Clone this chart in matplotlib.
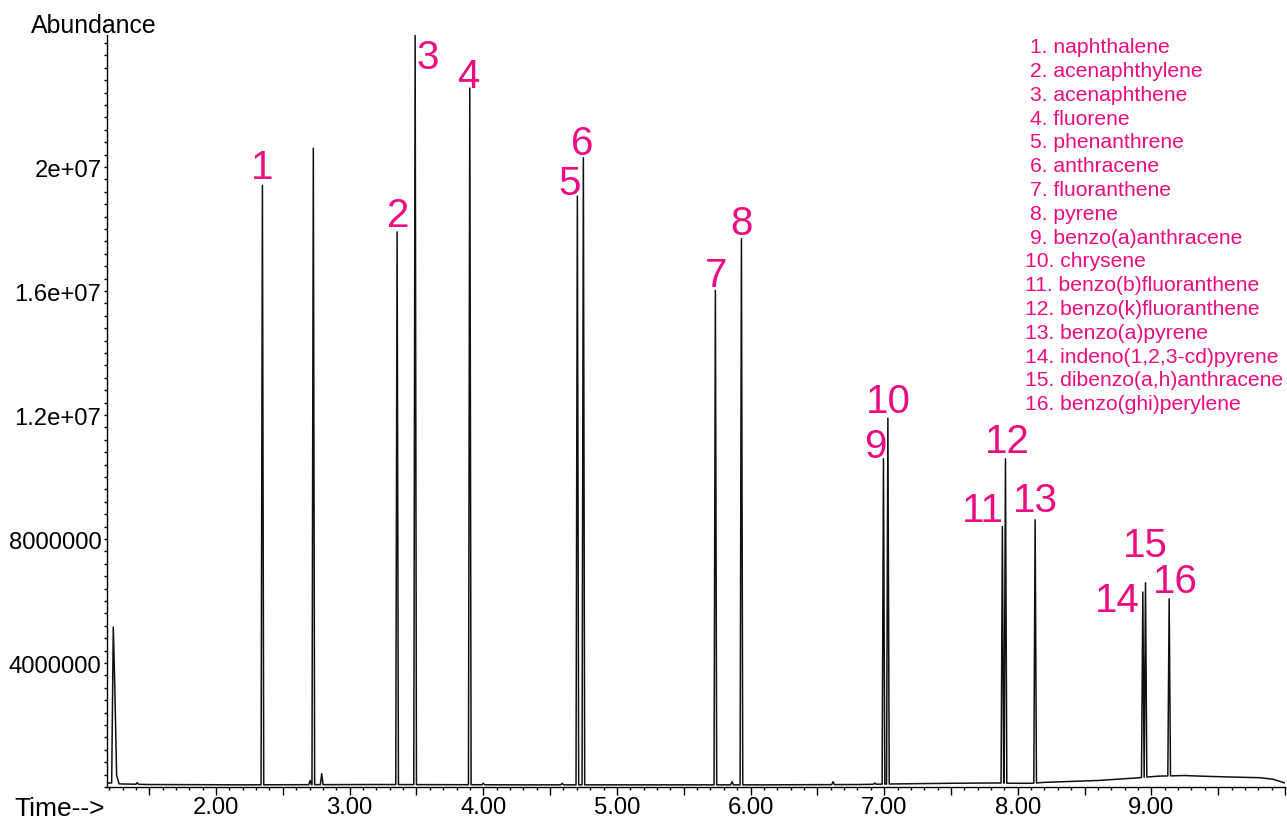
import numpy as np
import matplotlib.pyplot as plt
from matplotlib.ticker import MultipleLocator, FixedLocator, FuncFormatter

plt.rcParams['font.family'] = ['Liberation Sans', 'DejaVu Sans']

PINK = '#EA0C80'

# PAH names, numbered in elution order
compounds = ["naphthalene", "acenaphthylene", "acenaphthene", "fluorene",
             "phenanthrene", "anthracene", "fluoranthene", "pyrene",
             "benzo(a)anthracene", "chrysene", "benzo(b)fluoranthene",
             "benzo(k)fluoranthene", "benzo(a)pyrene", "indeno(1,2,3-cd)pyrene",
             "dibenzo(a,h)anthracene", "benzo(ghi)perylene"]

# labelled peaks: retention time (min) and apex abundance
peak_t = [2.347, 3.355, 3.490, 3.899, 4.704, 4.749, 5.737, 5.932,
          6.995, 7.028, 7.885, 7.908, 8.130, 8.936, 8.956, 9.133]
peak_y = [19.41e6, 17.91e6, 24.3e6, 22.55e6, 19.06e6, 20.30e6, 16.02e6, 17.69e6,
          10.59e6, 11.90e6, 8.41e6, 10.59e6, 8.62e6, 6.29e6, 6.59e6, 6.07e6]

# unlabelled peaks (internal standard + small impurities)
other_t = [2.728, 2.704, 2.791, 1.41, 4.00, 4.59, 5.862, 6.618, 6.93]
other_y = [20.61e6, 0.21e6, 0.43e6, 0.14e6, 0.12e6, 0.12e6, 0.17e6, 0.17e6, 0.13e6]

# background: solvent front and baseline drift
bg_t = [1.184, 1.219, 1.231, 1.241, 1.256, 1.275, 1.5, 2.2, 3.2, 4.3, 5.3,
        6.1, 6.8, 7.1, 7.5, 7.85, 7.95, 8.1, 8.2, 8.6, 8.88, 9.05, 9.25,
        9.37, 9.61, 9.81, 9.91, 10.0]
bg_y = [0.13e6, 0.13e6, 5.16e6, 3.5e6, 0.37e6, 0.10e6, 0.08e6, 0.07e6, 0.08e6,
        0.07e6, 0.07e6, 0.07e6, 0.08e6, 0.10e6, 0.12e6, 0.13e6, 0.12e6, 0.12e6,
        0.15e6, 0.21e6, 0.29e6, 0.35e6, 0.37e6, 0.35e6, 0.32e6, 0.30e6,
        0.25e6, 0.13e6]

HW = 0.010  # half width of a peak at its foot (min)

# label offsets from peak apex, in pixels (dx, dy up)
label_off = [(0, 7), (1, 6), (13, -33), (-2, 1), (-8, 2), (-1, 4), (1, 4), (0, 5),
             (-8, 2), (0, 6), (-20, 5), (2, 7), (0, 9), (-26, -19), (0, 27), (6, 7)]

# build the trace as one polyline
verts = list(zip(bg_t, bg_y))
for t, h in zip(peak_t + other_t, peak_y + other_y):
    f0, f1 = np.interp([t - HW, t + HW], bg_t, bg_y)
    verts += [(t - HW, f0), (t, h), (t + HW, f1)]
verts.sort()
tt, yy = zip(*verts)

W, H = 1287, 820
fig = plt.figure(figsize=(W / 100, H / 100), dpi=100)
ax = fig.add_axes([107 / W, 1 - 788 / H, 1178 / W, 752 / H])
ax.plot(tt, yy, color='#111111', lw=1.1)

ax.set_xlim(1.184, 10.0)
ax.set_ylim(0, 24.26e6)

for s in ['top', 'right']:
    ax.spines[s].set_visible(False)
for s in ['left', 'bottom']:
    ax.spines[s].set_linewidth(1.0)

ax.xaxis.set_major_locator(MultipleLocator(0.5))
ax.xaxis.set_minor_locator(MultipleLocator(0.1))
ax.xaxis.set_major_formatter(FuncFormatter(
    lambda v, p: f"{v:.2f}" if abs(v - round(v)) < 1e-6 and 2 <= v <= 9 else ""))
ax.tick_params(axis='x', which='major', length=5.5, width=1, labelsize=17.2, pad=1)
ax.tick_params(axis='x', which='minor', length=2.4, width=1)

ax.yaxis.set_major_locator(FixedLocator([4e6, 8e6, 1.2e7, 1.6e7, 2e7]))
ax.set_yticklabels(["4000000", "8000000", "1.2e+07", "1.6e+07", "2e+07"])
ax.yaxis.set_minor_locator(MultipleLocator(4e5))
ax.tick_params(axis='y', which='both', length=2, width=1, labelsize=17.2, pad=2)

for i, (t, h, (dx, dy)) in enumerate(zip(peak_t, peak_y, label_off)):
    ax.annotate(str(i + 1), (t, min(h, 24.26e6)), xytext=(dx, dy),
                textcoords='offset pixels', ha='center', va='baseline',
                fontsize=29, color=PINK, annotation_clip=False)

# compound list
for i, name in enumerate(compounds):
    x0 = 1030 if i < 9 else 1025
    y0 = 53.3 + i * 23.8
    fig.text(x0 / W, 1 - y0 / H, f"{i + 1}. {name}", fontsize=15.2,
             color=PINK, va='baseline', ha='left')

fig.text(30.7 / W, 1 - 33.3 / H, "Abundance", fontsize=17.9, va='baseline')
fig.text(14.6 / W, 1 - 815.7 / H, "Time-->", fontsize=19, va='baseline')

fig.savefig('out.png', dpi=100)
